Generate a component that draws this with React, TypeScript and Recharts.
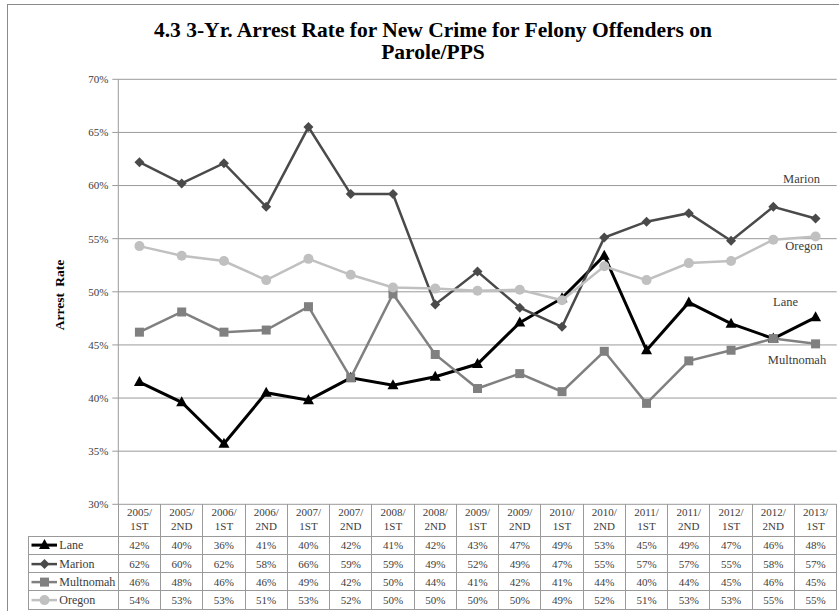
import React from "react";
import { LineChart, Line, XAxis, YAxis, CartesianGrid } from "recharts";

// Periodos (cabecera de la tabla)
const PERIODS = [
  "2005/1ST", "2005/2ND", "2006/1ST", "2006/2ND", "2007/1ST", "2007/2ND",
  "2008/1ST", "2008/2ND", "2009/1ST", "2009/2ND", "2010/1ST", "2010/2ND",
  "2011/1ST", "2011/2ND", "2012/1ST", "2012/2ND", "2013/1ST",
];

// Tasas de arresto (%)
const LANE = [41.5, 39.6, 35.7, 40.5, 39.8, 41.9, 41.2, 42.0, 43.2, 47.1, 49.4, 53.4, 44.5, 49.0, 47.0, 45.6, 47.6];
const MARION = [62.2, 60.2, 62.1, 58.0, 65.5, 59.2, 59.2, 48.8, 51.9, 48.5, 46.7, 55.1, 56.6, 57.4, 54.8, 58.0, 56.9];
const MULTNOMAH = [46.2, 48.1, 46.2, 46.4, 48.6, 41.9, 49.8, 44.1, 40.9, 42.3, 40.6, 44.4, 39.5, 43.5, 44.5, 45.6, 45.1];
const OREGON = [54.3, 53.4, 52.9, 51.1, 53.1, 51.6, 50.4, 50.3, 50.1, 50.2, 49.2, 52.4, 51.1, 52.7, 52.9, 54.9, 55.2];

const Y_TICKS = [30, 35, 40, 45, 50, 55, 60, 65, 70];

const FONT = '"Liberation Serif", "DejaVu Serif", serif';
const GRID = "#9a9a9a";
const TXT = "#3c3c3c";

type Shape = "triangle" | "diamond" | "square" | "circle";

const SERIES: { key: string; name: string; values: number[]; color: string; width: number; shape: Shape }[] = [
  { key: "lane", name: "Lane", values: LANE, color: "#000000", width: 3, shape: "triangle" },
  { key: "marion", name: "Marion", values: MARION, color: "#4a4a4a", width: 2.5, shape: "diamond" },
  { key: "multnomah", name: "Multnomah", values: MULTNOMAH, color: "#808080", width: 2.5, shape: "square" },
  { key: "oregon", name: "Oregon", values: OREGON, color: "#c0c0c0", width: 2.5, shape: "circle" },
];

const rows = PERIODS.map((p, i) => {
  const r: Record<string, number | string> = { period: p };
  SERIES.forEach((s) => (r[s.key] = s.values[i]));
  return r;
});

function Marker({ cx, cy, shape, color, k }: { cx: number; cy: number; shape: Shape; color: string; k?: string }) {
  if (cx == null || cy == null) return null;
  if (shape === "triangle")
    return <polygon key={k} points={`${cx},${cy - 6} ${cx - 5.5},${cy + 4} ${cx + 5.5},${cy + 4}`} fill={color} />;
  if (shape === "diamond")
    return <polygon key={k} points={`${cx},${cy - 5} ${cx + 5},${cy} ${cx},${cy + 5} ${cx - 5},${cy}`} fill={color} />;
  if (shape === "square") return <rect key={k} x={cx - 4.5} y={cy - 4.5} width={9} height={9} fill={color} />;
  return <circle key={k} cx={cx} cy={cy} r={5} fill={color} />;
}

// geometría de la tabla
const TBL_X = 28.3;
const PLOT_X = 118.3;
const PLOT_R = 836.7;
const COL_W = (PLOT_R - PLOT_X) / PERIODS.length;
const HEAD_Y = 504.3;
const HEAD_H = 32;
const ROW_H = 18.2;

function DataTable() {
  const lines: React.ReactNode[] = [];
  const bottom = HEAD_Y + HEAD_H + ROW_H * SERIES.length;
  // verticales
  lines.push(<div key="v0" style={{ position: "absolute", left: TBL_X, top: HEAD_Y + HEAD_H, width: 1, height: bottom - HEAD_Y - HEAD_H, background: GRID }} />);
  for (let k = 0; k <= PERIODS.length; k++) {
    lines.push(<div key={`v${k + 1}`} style={{ position: "absolute", left: PLOT_X + k * COL_W - 0.5, top: HEAD_Y, width: 1, height: bottom - HEAD_Y, background: GRID }} />);
  }
  // horizontales
  for (let r = 0; r <= SERIES.length; r++) {
    const y = HEAD_Y + HEAD_H + r * ROW_H;
    lines.push(<div key={`h${r}`} style={{ position: "absolute", left: TBL_X, top: y - 0.5, width: PLOT_R - TBL_X, height: 1, background: GRID }} />);
  }
  return (
    <>
      {lines}
      {PERIODS.map((p, i) => {
        const [a, b] = p.split("/");
        return (
          <div key={p} style={{ position: "absolute", left: PLOT_X + i * COL_W, top: HEAD_Y + 2, width: COL_W, textAlign: "center", fontSize: 11, lineHeight: "13.5px", color: TXT }}>
            {a}/<br />{b}
          </div>
        );
      })}
      {SERIES.map((s, r) => {
        const y = HEAD_Y + HEAD_H + r * ROW_H;
        return (
          <React.Fragment key={s.key}>
            <svg style={{ position: "absolute", left: TBL_X, top: y, width: 30, height: ROW_H }}>
              <line x1={3.5} x2={29} y1={ROW_H / 2} y2={ROW_H / 2} stroke={s.color} strokeWidth={s.width} />
              <Marker cx={16.5} cy={ROW_H / 2} shape={s.shape} color={s.color} />
            </svg>
            <div style={{ position: "absolute", left: 59.3, top: y, height: ROW_H, lineHeight: `${ROW_H}px`, fontSize: 12, color: TXT }}>{s.name}</div>
            {s.values.map((v, i) => (
              <div key={i} style={{ position: "absolute", left: PLOT_X + i * COL_W, top: y, width: COL_W, height: ROW_H, lineHeight: `${ROW_H}px`, textAlign: "center", fontSize: 11, color: TXT }}>
                {Math.round(v)}%
              </div>
            ))}
          </React.Fragment>
        );
      })}
    </>
  );
}

const END_LABELS = [
  { name: "Marion", x: 801.5, y: 183 },
  { name: "Oregon", x: 804, y: 250 },
  { name: "Lane", x: 785.5, y: 306 },
  { name: "Multnomah", x: 797, y: 364 },
];

export default function App() {
  return (
    <div style={{ position: "absolute", left: 0, top: 0, width: 839, height: 611, overflow: "hidden", background: "#fff", fontFamily: FONT }}>
      <div style={{ position: "absolute", left: 7, top: 4, width: 860, height: 640, border: "1px solid #8a8a8a" }} />
      <div style={{ position: "absolute", left: 0, top: 19, width: 866, textAlign: "center", fontSize: 21.5, fontWeight: "bold", lineHeight: "22px", color: "#000" }}>
        4.3 3-Yr. Arrest Rate for New Crime for Felony Offenders on<br />Parole/PPS
      </div>
      <div style={{ position: "absolute", left: 0, top: 287, width: 120, textAlign: "center", fontSize: 13.5, fontWeight: "bold", lineHeight: "16px", color: "#000", transform: "rotate(-90deg)", transformOrigin: "60px 8px", whiteSpace: "nowrap", wordSpacing: 3 }}>
        Arrest Rate
      </div>
      <div style={{ position: "absolute", left: 0, top: 0 }}>
        <LineChart width={839} height={611} data={rows} margin={{ top: 79.3, right: 839 - PLOT_R, bottom: 611 - HEAD_Y, left: 0 }}>
          <CartesianGrid vertical={false} stroke={GRID} strokeWidth={1} />
          <XAxis dataKey="period" hide padding={{ left: COL_W / 2, right: COL_W / 2 }} />
          <YAxis
            width={PLOT_X}
            domain={[30, 70]}
            ticks={Y_TICKS}
            tickFormatter={(v) => `${v}%`}
            axisLine={{ stroke: GRID }}
            tickLine={{ stroke: GRID }}
            tickSize={6}
            tickMargin={4}
            tick={{ fontSize: 11, fill: TXT, fontFamily: FONT }}
          />
          {SERIES.map((s) => (
            <Line
              key={s.key}
              dataKey={s.key}
              stroke={s.color}
              strokeWidth={s.width}
              isAnimationActive={false}
              dot={(p: any) => <Marker k={`${s.key}-${p.index}`} cx={p.cx} cy={p.cy} shape={s.shape} color={s.color} />}
              activeDot={false}
            />
          ))}
        </LineChart>
      </div>
      <svg style={{ position: "absolute", left: 0, top: 0, width: 839, height: 611, pointerEvents: "none" }}>
        {END_LABELS.map((l) => (
          <text key={l.name} x={l.x} y={l.y} textAnchor="middle" fontSize={12.5} fill={TXT} fontFamily={FONT}>
            {l.name}
          </text>
        ))}
      </svg>
      <DataTable />
    </div>
  );
}
